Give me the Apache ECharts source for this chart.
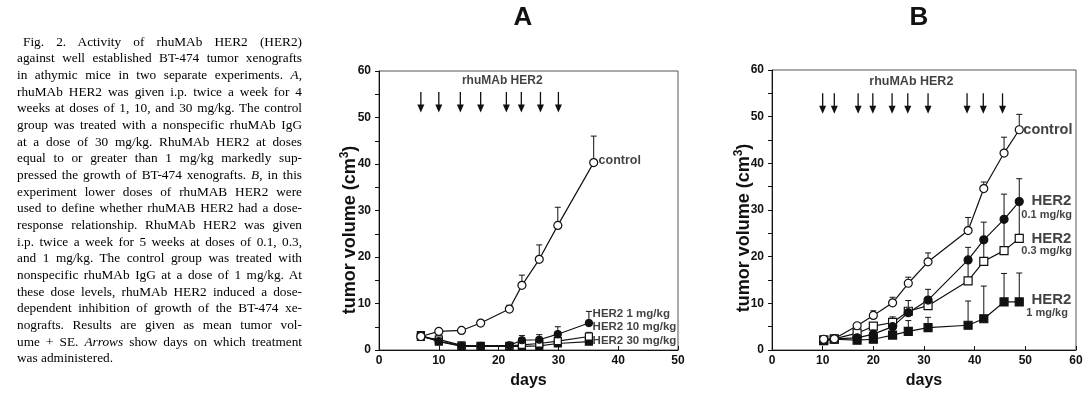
<!DOCTYPE html>
<html>
<head>
<meta charset="utf-8">
<script src="https://cdn.jsdelivr.net/npm/echarts/dist/echarts.min.js"></script>
<style>
  html, body { margin: 0; padding: 0; background: #fff; overflow: hidden; }
  #chart { position: absolute; left: 0; top: 0; width: 1084px; height: 393px; }
  #cap { position: absolute; left: 17px; top: 33.7px; width: 285px; font-family: 'Liberation Serif', 'DejaVu Serif', serif; font-size: 13.3px; line-height: 16.65px; color: #000; z-index: 2; }
  #cap div { text-align: justify; text-align-last: justify; white-space: nowrap; }
  #cap div.first { padding-left: 6px; }
  #cap div.last { text-align-last: left; }
  #measure { position: absolute; left: 0; top: 0; visibility: hidden; font-family: 'Liberation Serif', 'DejaVu Serif', serif; font-size: 13.3px; white-space: nowrap; }
  #measure span { display: block; width: max-content; }
</style>
</head>
<body>
<div id="chart"></div>
<div id="cap"></div>
<div id="measure"></div>
<script>
// ---------------- caption ----------------
const captionLines = [
  "Fig. 2. Activity of rhuMAb HER2 (HER2)",
  "against well established BT-474 tumor xenografts",
  "in athymic mice in two separate experiments. <i>A</i>,",
  "rhuMAb HER2 was given i.p. twice a week for 4",
  "weeks at doses of 1, 10, and 30 mg/kg. The control",
  "group was treated with a nonspecific rhuMAb IgG",
  "at a dose of 30 mg/kg. RhuMAb HER2 at doses",
  "equal to or greater than 1 mg/kg markedly sup-",
  "pressed the growth of BT-474 xenografts. <i>B</i>, in this",
  "experiment lower doses of rhuMAB HER2 were",
  "used to define whether rhuMAB HER2 had a dose-",
  "response relationship. RhuMAb HER2 was given",
  "i.p. twice a week for 5 weeks at doses of 0.1, 0.3,",
  "and 1 mg/kg. The control group was treated with",
  "nonspecific rhuMAb IgG at a dose of 1 mg/kg. At",
  "these dose levels, rhuMAb HER2 induced a dose-",
  "dependent inhibition of growth of the BT-474 xe-",
  "nografts. Results are given as mean tumor vol-",
  "ume + SE. <i>Arrows</i> show days on which treatment",
  "was administered."
];

// ---------------- panel A data ----------------
const daysAControl = [7, 10, 13.8, 17, 21.8, 23.9, 26.8, 29.9, 35.9];
const daysA        = [7, 10, 13.8, 17, 21.8, 23.9, 26.8, 29.9, 35.1];
const controlA     = [2.9, 4.0, 4.2, 5.8, 8.8, 13.9, 19.5, 26.8, 40.3];
const controlA_se  = [0, 0, 0, 0, 0.8, 2.2, 3.1, 3.9, 5.7];
const her2_1A      = [3.0, 1.9, 0.9, 0.9, 1.0, 2.1, 2.2, 3.4, 5.8];
const her2_1A_se   = [0, 0, 0, 0, 0, 1.0, 1.1, 1.6, 2.5];
const her2_10A     = [2.8, 2.3, 1.0, 0.9, 0.9, 1.1, 1.4, 1.9, 2.9];
const her2_10A_se  = [0, 0, 0, 0, 0, 0.3, 0.3, 0.3, 0.9];
const her2_30A     = [3.2, 1.8, 0.8, 0.8, 0.8, 0.8, 0.9, 1.4, 1.8];
const her2_30A_se  = [0, 0, 0, 0, 0, 0, 0, 0.2, 0.3];
const arrowDaysA   = [7, 10, 13.6, 17, 21.3, 23.8, 27, 30];

// ---------------- panel B data ----------------
const daysB        = [10.2, 12.3, 16.8, 20, 23.8, 26.9, 30.8, 38.7, 41.8, 45.8, 48.8];
const controlB     = [2.3, 2.4, 5.2, 7.4, 10.1, 14.3, 18.9, 25.6, 34.6, 42.2, 47.2];
const controlB_se  = [0, 0, 0.3, 1.0, 1.2, 1.3, 1.9, 2.8, 1.4, 3.4, 3.3];
const her2_01B     = [2.0, 2.4, 2.6, 3.4, 5.0, 8.0, 10.7, 19.3, 23.6, 28.0, 31.8];
const her2_01B_se  = [0, 0, 0, 0, 0, 0, 2.3, 2.7, 3.8, 5.4, 4.9];
const her2_03B     = [2.2, 2.4, 3.6, 5.1, 5.9, 8.3, 9.5, 14.8, 19.0, 21.3, 23.9];
const her2_03B_se  = [0, 0, 0, 0, 1.2, 2.3, 0, 4.5, 4.6, 6.7, 7.9];
const her2_1B      = [2.0, 2.3, 2.1, 2.3, 3.2, 4.0, 4.8, 5.3, 6.7, 10.3, 10.3];
const her2_1B_se   = [0, 0, 0, 0, 0, 2.3, 2.2, 5.2, 7.0, 6.1, 6.2];
const arrowDaysB   = [10, 12.3, 17, 19.9, 23.7, 26.8, 30.8, 38.5, 41.7, 45.5];

// tick labels
const xTicksA = [0, 10, 20, 30, 40, 50];
const xTicksB = [0, 10, 20, 30, 40, 50, 60];
const yTicks  = [0, 10, 20, 30, 40, 50, 60];

// ---------------- caption render (each line justified / fitted) ----------------
(function () {
  const cap = document.getElementById('cap');
  const meas = document.getElementById('measure');
  const W = 285;
  captionLines.forEach((t, i) => {
    const d = document.createElement('div');
    d.innerHTML = t;
    if (i === 0) d.className = 'first';
    if (i === captionLines.length - 1) d.className = 'last';
    cap.appendChild(d);
    const s = document.createElement('span');
    s.innerHTML = t;
    meas.appendChild(s);
    const w = s.getBoundingClientRect().width;
    const avail = W - (i === 0 ? 6 : 0);
    if (w > avail) {
      d.style.width = w + 'px';
      d.style.transform = 'scaleX(' + (avail / w) + ')';
      d.style.transformOrigin = '0 0';
    }
  });
  meas.parentNode.removeChild(meas);
})();

// ---------------- helpers ----------------
const FONT = "'Liberation Sans', Arial, sans-serif";
function zip(xs, ys) { return xs.map((x, i) => [x, ys[i]]); }
function errData(xs, ys, se) { return xs.map((x, i) => [x, ys[i], ys[i] + se[i]]); }

function lineSeries(idx, xs, ys, symbol, filled, size) {
  return {
    type: 'line', xAxisIndex: idx, yAxisIndex: idx, data: zip(xs, ys),
    symbol: symbol, symbolSize: size, showSymbol: true, z: 5,
    lineStyle: { color: '#111', width: 1.2 },
    itemStyle: { color: filled ? '#111' : '#fff', borderColor: '#111', borderWidth: 1.2 },
    animation: false
  };
}
function errSeries(idx, xs, ys, se) {
  return {
    type: 'custom', xAxisIndex: idx, yAxisIndex: idx, data: errData(xs, ys, se), z: 3,
    animation: false,
    renderItem: function (params, api) {
      const x = api.value(0), y = api.value(1), t = api.value(2);
      if (t <= y) return null;
      const p0 = api.coord([x, y]), p1 = api.coord([x, t]);
      return { type: 'group', children: [
        { type: 'line', shape: { x1: p0[0], y1: p0[1], x2: p1[0], y2: p1[1] }, style: { stroke: '#111', lineWidth: 1 } },
        { type: 'line', shape: { x1: p1[0] - 3, y1: p1[1], x2: p1[0] + 3, y2: p1[1] }, style: { stroke: '#111', lineWidth: 1 } }
      ]};
    }
  };
}
function arrowSeries(idx, days, yTop, yTip) {
  return {
    type: 'custom', xAxisIndex: idx, yAxisIndex: idx, data: days.map(d => [d]), z: 4,
    animation: false,
    renderItem: function (params, api) {
      const d = api.value(0);
      const a = api.coord([d, yTop]), b = api.coord([d, yTip]);
      const headH = 8;
      return { type: 'group', children: [
        { type: 'line', shape: { x1: a[0], y1: a[1], x2: b[0], y2: b[1] - headH + 1 }, style: { stroke: '#111', lineWidth: 1.3 } },
        { type: 'polygon', shape: { points: [[b[0] - 3.5, b[1] - headH], [b[0] + 3.5, b[1] - headH], [b[0], b[1]]] }, style: { fill: '#111' } }
      ]};
    }
  };
}
function labelSeries(idx, items) {
  return {
    type: 'scatter', xAxisIndex: idx, yAxisIndex: idx, symbolSize: 1, z: 6,
    itemStyle: { color: 'rgba(0,0,0,0)' }, animation: false, silent: true,
    data: items.map(it => ({
      name: it.text, value: it.pos,
      label: { show: true, formatter: '{b}', position: [0, 0], align: it.align || 'left', verticalAlign: 'middle',
               color: '#111', fontFamily: FONT, fontWeight: 'bold', fontSize: it.size }
    }))
  };
}
function xAxis(idx, max) {
  return {
    type: 'value', gridIndex: idx, min: 0, max: max, interval: 10,
    axisLine: { show: true, lineStyle: { color: '#111', width: 1 } },
    axisTick: { show: true, inside: true, length: 4, lineStyle: { color: '#111' } },
    axisLabel: { color: '#111', fontFamily: FONT, fontWeight: 'bold', fontSize: 12, margin: 5 },
    splitLine: { show: false },
    name: 'days', nameLocation: 'middle', nameGap: 23,
    nameTextStyle: { color: '#111', fontFamily: FONT, fontWeight: 'bold', fontSize: 16, verticalAlign: 'top' }
  };
}
function yAxis(idx) {
  return {
    type: 'value', gridIndex: idx, min: 0, max: 60, interval: 10,
    axisLine: { show: true, lineStyle: { color: '#111', width: 1 } },
    axisTick: { show: true, inside: false, length: 4, lineStyle: { color: '#111' } },
    minorTick: { show: true, splitNumber: 2, length: 4, lineStyle: { color: '#111' } },
    axisLabel: { color: '#111', fontFamily: FONT, fontWeight: 'bold', fontSize: 12, margin: 8 },
    splitLine: { show: false }
  };
}
function yName(x, y) {
  return {
    type: 'text', x: x, y: y, rotation: Math.PI / 2,
    style: {
      text: '{a|tumor volume (cm}{b|3}{a|)}',
      align: 'center', verticalAlign: 'middle',
      rich: {
        a: { fontFamily: FONT, fontWeight: 'bold', fontSize: 18, fill: '#111', lineHeight: 22 },
        b: { fontFamily: FONT, fontWeight: 'bold', fontSize: 12, fill: '#111', lineHeight: 22, verticalAlign: 'top', padding: [0, 0, 10, 0] }
      }
    }
  };
}

const chart = echarts.init(document.getElementById('chart'), null, { renderer: 'canvas' });
chart.setOption({
  backgroundColor: '#fff',
  animation: false,
  grid: [
    { left: 379, top: 71, width: 299, height: 279, show: true, borderColor: '#555', borderWidth: 1, backgroundColor: 'transparent', containLabel: false, outerBoundsMode: 'none' },
    { left: 772, top: 70, width: 304, height: 280, show: true, borderColor: '#555', borderWidth: 1, backgroundColor: 'transparent', containLabel: false, outerBoundsMode: 'none' }
  ],
  xAxis: [xAxis(0, 50), xAxis(1, 60)],
  yAxis: [yAxis(0), yAxis(1)],
  graphic: [
    { type: 'text', x: 523, y: 18, style: { text: 'A', font: "bold 26px 'Liberation Sans', Arial, sans-serif", fill: '#111', align: 'center', verticalAlign: 'middle' } },
    { type: 'text', x: 919, y: 18, style: { text: 'B', font: "bold 26px 'Liberation Sans', Arial, sans-serif", fill: '#111', align: 'center', verticalAlign: 'middle' } },
    yName(350, 230),
    yName(744, 228)
  ],
  series: [
    // panel A
    errSeries(0, daysAControl, controlA, controlA_se),
    errSeries(0, daysA, her2_1A, her2_1A_se),
    errSeries(0, daysA, her2_10A, her2_10A_se),
    errSeries(0, daysA, her2_30A, her2_30A_se),
    lineSeries(0, daysA, her2_30A, 'rect', true, 7),
    lineSeries(0, daysA, her2_10A, 'rect', false, 7),
    lineSeries(0, daysA, her2_1A, 'circle', true, 7),
    lineSeries(0, daysAControl, controlA, 'circle', false, 8),
    arrowSeries(0, arrowDaysA, 55.5, 51.1),
    labelSeries(0, [
      { text: 'rhuMAb HER2', pos: [20.7, 57.9], size: 12, align: 'center' },
      { text: 'control', pos: [36.8, 40.6], size: 12.5 },
      { text: 'HER2 1 mg/kg', pos: [35.8, 7.7], size: 11.5 },
      { text: 'HER2 10 mg/kg', pos: [35.8, 4.8], size: 11.5 },
      { text: 'HER2 30 mg/kg', pos: [35.8, 1.9], size: 11.5 }
    ]),
    // panel B
    errSeries(1, daysB, controlB, controlB_se),
    errSeries(1, daysB, her2_01B, her2_01B_se),
    errSeries(1, daysB, her2_03B, her2_03B_se),
    errSeries(1, daysB, her2_1B, her2_1B_se),
    lineSeries(1, daysB, her2_1B, 'rect', true, 8),
    lineSeries(1, daysB, her2_03B, 'rect', false, 8),
    lineSeries(1, daysB, her2_01B, 'circle', true, 8),
    lineSeries(1, daysB, controlB, 'circle', false, 8),
    arrowSeries(1, arrowDaysB, 55, 50.6),
    labelSeries(1, [
      { text: 'rhuMAb HER2', pos: [27.6, 57.5], size: 12.5, align: 'center' },
      { text: 'control', pos: [49.7, 47.0], size: 14.5 },
      { text: 'HER2', pos: [51.3, 31.8], size: 15 },
      { text: '0.1 mg/kg', pos: [49.3, 28.8], size: 11 },
      { text: 'HER2', pos: [51.3, 23.8], size: 15 },
      { text: '0.3 mg/kg', pos: [49.3, 21.1], size: 11 },
      { text: 'HER2', pos: [51.3, 10.7], size: 15 },
      { text: '1 mg/kg', pos: [50.3, 7.9], size: 11 }
    ])
  ]
});
</script>
</body>
</html>
